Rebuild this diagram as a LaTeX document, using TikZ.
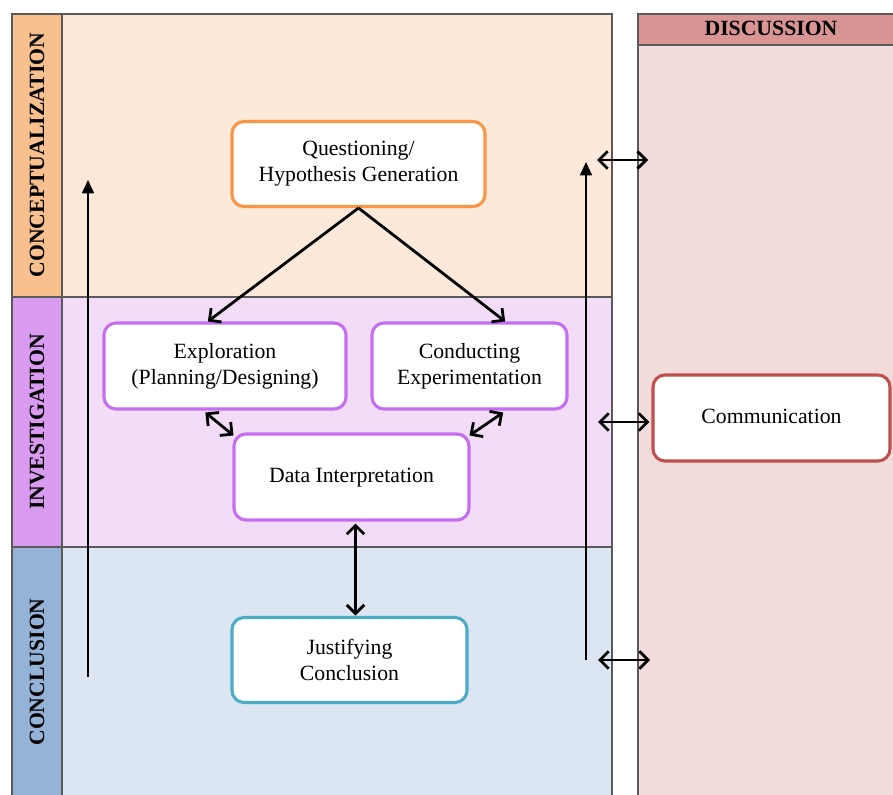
\documentclass[tikz,border=0pt]{standalone}
\usepackage{fontspec}
\setmainfont{Liberation Serif}
\usetikzlibrary{arrows.meta,calc}
\definecolor{cstrip}{HTML}{F9C08F}
\definecolor{cbody}{HTML}{FDE9D9}
\definecolor{istrip}{HTML}{D99BF0}
\definecolor{ibody}{HTML}{F2DCF8}
\definecolor{kstrip}{HTML}{95B3D7}
\definecolor{kbody}{HTML}{DCE6F2}
\definecolor{dhead}{HTML}{D99594}
\definecolor{dbody}{HTML}{F2DCDB}
\definecolor{bord}{HTML}{5A5A5A}
\definecolor{borange}{HTML}{F79646}
\definecolor{bpurple}{HTML}{C56FF0}
\definecolor{bteal}{HTML}{4BACC6}
\definecolor{bred}{HTML}{C0504D}
\tikzset{
  box/.style={draw, line width=2.3pt, fill=white, rounded corners=9pt, align=center,
    font=\fontsize{16.3}{19.5}\selectfont, inner sep=0pt},
  seclabel/.style={rotate=90, font=\fontsize{16.3}{19.5}\selectfont\bfseries},
  frame/.style={draw=bord, line width=1.1pt},
  barb/.style={line width=2.1pt, {Straight Barb[length=6.5pt,width=13pt,line width=2.1pt]}-{Straight Barb[length=6.5pt,width=13pt,line width=2.1pt]}},
  onebarb/.style={line width=2.1pt, -{Straight Barb[length=6.5pt,width=13pt,line width=2.1pt]}},
  uparrow/.style={line width=1.3pt, -{Triangle[length=10pt,width=9pt]}}
}
\begin{document}
\begin{tikzpicture}[x=0.75pt,y=-0.75pt]
\clip (0,0) rectangle (893,795);
\fill[white] (0,0) rectangle (893,795);
% left frame sections
\fill[cbody] (12,14) rectangle (612,297);
\fill[ibody] (12,297) rectangle (612,547);
\fill[kbody] (12,547) rectangle (612,800);
\fill[cstrip] (12,14) rectangle (62,297);
\fill[istrip] (12,297) rectangle (62,547);
\fill[kstrip] (12,547) rectangle (62,800);
\draw[frame] (12,14) rectangle (612,800);
\draw[frame] (62,14) -- (62,800);
\draw[frame] (12,297) -- (612,297);
\draw[frame] (12,547) -- (612,547);
% discussion panel
\fill[dbody] (638,14) rectangle (900,800);
\fill[dhead] (638,14) rectangle (900,45);
\draw[frame] (638,14) rectangle (900,800);
\draw[frame] (638,45) -- (900,45);
\node[font=\fontsize{16.3}{19.5}\selectfont\bfseries] (dtitle) at (771,28) {DISCUSSION};
% section labels
\node[seclabel] (lconc) at (37,155) {CONCEPTUALIZATION};
\node[seclabel] (linv) at (37,422) {INVESTIGATION};
\node[seclabel] (lcl) at (37,672) {CONCLUSION};
% nodes
\node[box, draw=borange, minimum width=189.75pt, minimum height=63.75pt] (q) at (358.5,164) {Questioning/\\Hypothesis Generation};
\node[box, draw=bpurple, minimum width=181.5pt, minimum height=64.5pt] (expl) at (225,366) {Exploration\\(Planning/Designing)};
\node[box, draw=bpurple, minimum width=146.25pt, minimum height=64.5pt] (cond) at (469.5,366) {Conducting\\Experimentation};
\node[box, draw=bpurple, minimum width=176.25pt, minimum height=64.5pt] (data) at (351.5,477) {Data Interpretation\strut};
\node[box, draw=bteal, minimum width=176.25pt, minimum height=63.75pt] (just) at (349.5,660) {Justifying\\Conclusion};
\node[box, draw=bred, minimum width=177.75pt, minimum height=64.5pt] (comm) at (771.5,418) {Communication\strut};
% arrows inside
\draw[onebarb] (q.south) -- ($(expl.north west)!0.43!(expl.north east)$);
\draw[onebarb] (q.south) -- ($(cond.north west)!0.68!(cond.north east)$);
\draw[barb] ($(expl.south west)!0.42!(expl.south east)+(0,2)$) -- ($(data.north west)+(1,3)$);
\draw[barb] ($(cond.south west)!0.67!(cond.south east)+(0,2)$) -- ($(data.north east)+(-1,3)$);
\draw[barb] ($(data.south)+(4,2)$) -- ($(data.south)+(4,94)$) coordinate (jtop);
% vertical arrows
\coordinate (l1) at (88,677);
\coordinate (l2) at (88,180);
\draw[uparrow] (l1) -- (l2);
\coordinate (r1) at (586,660);
\coordinate (r2) at (586,162);
\draw[uparrow] (r1) -- (r2);
% horizontal double arrows
\coordinate (h1a) at (597,160);
\coordinate (h1b) at (648,160);
\draw[barb] (h1a) -- (h1b);
\coordinate (h2a) at (598,422);
\draw[barb] (h2a) -- ($(comm.west)+(-2,4)$);
\coordinate (h3a) at (598,660);
\coordinate (h3b) at (650,660);
\draw[barb] (h3a) -- (h3b);
\end{tikzpicture}
\end{document}
